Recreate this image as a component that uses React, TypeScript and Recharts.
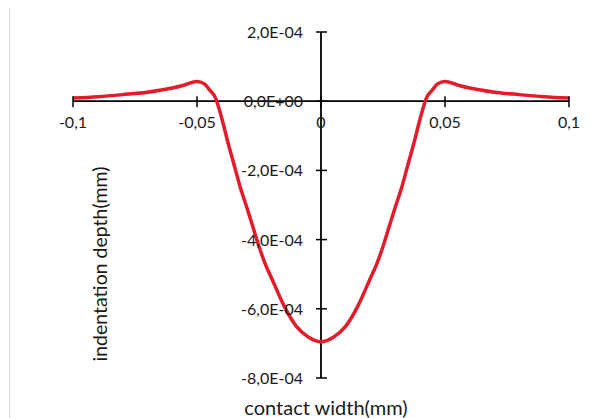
import { LineChart, Line, XAxis, YAxis, ReferenceLine, ReferenceDot } from "recharts";

// contact width (mm)
const widths = [
  -0.1, -0.09, -0.08, -0.07, -0.06, -0.055, -0.05, -0.047, -0.045, -0.0425,
  -0.04, -0.0375, -0.035, -0.0325, -0.03, -0.0275, -0.025, -0.0225, -0.02, -0.015,
  -0.01, -0.005, 0, 0.005, 0.01, 0.015, 0.02, 0.0225, 0.025, 0.0275,
  0.03, 0.0325, 0.035, 0.0375, 0.04, 0.0425, 0.045, 0.047, 0.05, 0.055,
  0.06, 0.07, 0.08, 0.09, 0.1,
];

// indentation depth (mm)
const depths = [
  0.9e-5, 1.3e-5, 1.9e-5, 2.6e-5, 3.8e-5, 4.7e-5, 5.7e-5, 5.0e-5, 3.3e-5, 0.9e-5,
  -0.5e-4, -1.2e-4, -1.85e-4, -2.5e-4, -3.05e-4, -3.62e-4, -4.2e-4, -4.7e-4, -5.1e-4, -5.9e-4,
  -6.5e-4, -6.82e-4, -6.95e-4, -6.82e-4, -6.5e-4, -5.9e-4, -5.1e-4, -4.7e-4, -4.2e-4, -3.62e-4,
  -3.05e-4, -2.5e-4, -1.85e-4, -1.2e-4, -0.5e-4, 0.9e-5, 3.3e-5, 5.0e-5, 5.7e-5, 4.7e-5,
  3.8e-5, 2.6e-5, 1.9e-5, 1.3e-5, 0.9e-5,
];

const xTicks = [-0.1, -0.05, 0, 0.05, 0.1];
const xTickLabels = ["-0,1", "-0,05", "0", "0,05", "0,1"];
const yTicks = [2e-4, 0, -2e-4, -4e-4, -6e-4, -8e-4];
const yTickLabels = ["2,0E-04", "0,0E+00", "-2,0E-04", "-4,0E-04", "-6,0E-04", "-8,0E-04"];

const data = widths.map((w, i) => ({ w, d: depths[i] }));

const FONT = "Lato, 'Open Sans', sans-serif";

function XTick(props: any) {
  const { cx, cy, label } = props;
  return (
    <g>
      <line x1={cx} x2={cx} y1={cy - 5} y2={cy + 6} stroke="#000" strokeWidth={1.5} />
      <text x={cx} y={cy + 27} textAnchor="middle" fontSize={16} fontFamily={FONT} fill="#1a1a1a">
        {label}
      </text>
    </g>
  );
}

function YTick(props: any) {
  const { cx, cy, label } = props;
  return (
    <g>
      <line x1={cx - 5} x2={cx + 6} y1={cy} y2={cy} stroke="#000" strokeWidth={1.5} />
      <text x={cx - 18} y={cy + 6} textAnchor="end" fontSize={16} fontFamily={FONT} fill="#1a1a1a">
        {label}
      </text>
    </g>
  );
}

export default function App() {
  return (
    <div
      style={{
        margin: "-2px 0 0 1px",
        borderTop: "1px solid #d9d9d9",
        borderLeft: "1px solid #d9d9d9",
        width: 600,
        height: 411,
        background: "#fff",
      }}
    >
      <LineChart width={600} height={411} data={data} margin={{ top: 25, right: 41, left: 0, bottom: 0 }}>
        <XAxis
          dataKey="w"
          type="number"
          domain={[-0.1, 0.1]}
          allowDataOverflow
          axisLine={false}
          tickLine={false}
          tick={false}
          height={40}
          label={{ value: "contact width(mm)", position: "insideBottom", offset: 3, fontSize: 20, fontFamily: FONT, fill: "#1a1a1a", dx: 5 }}
        />
        <YAxis
          type="number"
          domain={[-8e-4, 2e-4]}
          allowDataOverflow
          axisLine={false}
          tickLine={false}
          tick={false}
          width={63}
          label={{
            content: (p: any) => {
              const vb = p.viewBox;
              const x = vb.x + vb.width + 26;
              const y = vb.y + vb.height / 2 + 59;
              return (
                <text x={x} y={y} transform={`rotate(-90 ${x} ${y})`} textAnchor="middle" dominantBaseline="central" fontSize={19.5} fontFamily={FONT} fill="#1a1a1a">
                  indentation depth(mm)
                </text>
              );
            },
          }}
        />
        <ReferenceLine y={0} stroke="#000" strokeWidth={1.8} />
        <ReferenceLine x={0} stroke="#000" strokeWidth={1.8} />
        {xTicks.map((t, i) => (
          <ReferenceDot key={"x" + t} x={t} y={0} ifOverflow="visible" shape={(p: any) => <XTick {...p} label={xTickLabels[i]} />} />
        ))}
        {yTicks.map((t, i) => (
          <ReferenceDot key={"y" + t} x={0} y={t} ifOverflow="visible" shape={(p: any) => <YTick {...p} label={yTickLabels[i]} />} />
        ))}
        <Line dataKey="d" type="monotone" stroke="#e31b2a" strokeWidth={3.5} dot={false} isAnimationActive={false} />
      </LineChart>
    </div>
  );
}
